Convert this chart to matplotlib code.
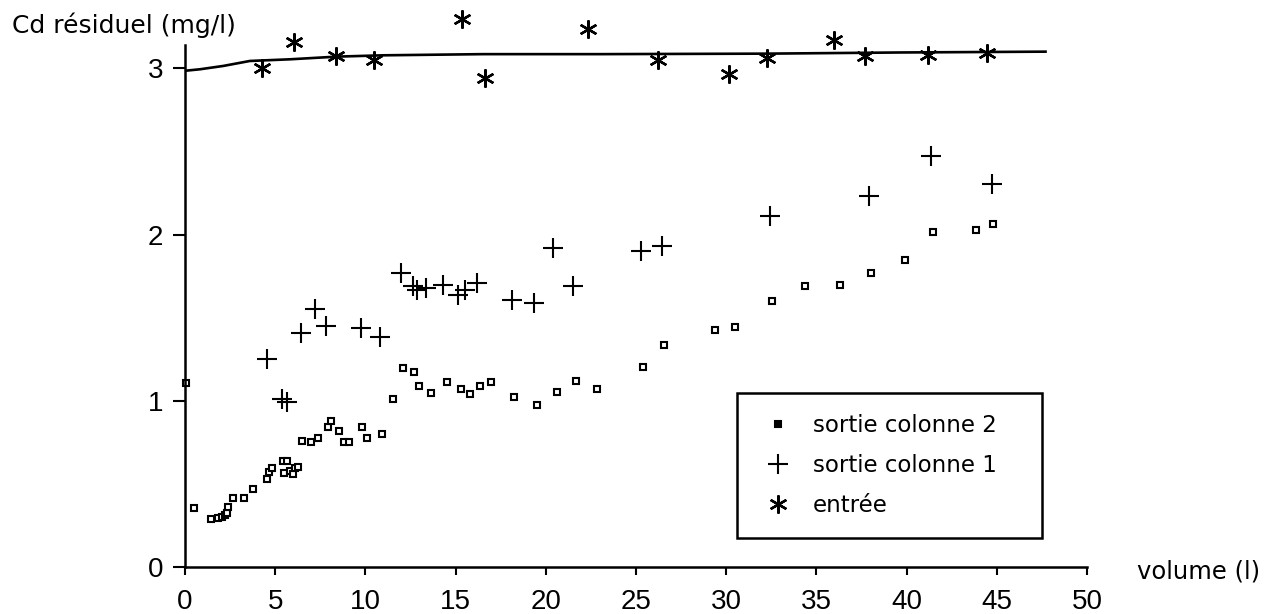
import numpy as np
import matplotlib
matplotlib.use("Agg")
import matplotlib.pyplot as plt

# -----------------------------------
# Data
# -----------------------------------
# sortie colonne 2 (small squares)
vol_c2 = [0.05, 0.5, 1.42, 1.85, 2.03, 2.22, 2.34, 2.4, 2.68, 3.27, 3.79, 4.53, 4.66, 4.81,
          5.42, 5.64, 5.49, 5.82, 6.0, 6.1, 6.28, 6.5, 6.97, 7.39, 7.91, 8.08, 8.55, 8.83,
          9.09, 9.83, 10.07, 10.9, 11.51, 12.1, 12.71, 12.99, 13.64, 14.51, 15.28, 15.8,
          16.35, 16.95, 18.25, 19.5, 20.6, 21.66, 22.86, 25.37, 26.53, 29.37, 30.47, 32.56,
          34.36, 36.31, 38.02, 39.9, 41.48, 43.85, 44.77]
cd_c2 = [1.107, 0.354, 0.287, 0.295, 0.303, 0.313, 0.327, 0.36, 0.414, 0.417, 0.47, 0.53,
         0.574, 0.595, 0.639, 0.639, 0.568, 0.578, 0.56, 0.595, 0.6, 0.755, 0.751, 0.775,
         0.845, 0.881, 0.821, 0.751, 0.751, 0.845, 0.775, 0.801, 1.01, 1.2, 1.17, 1.09,
         1.046, 1.113, 1.07, 1.04, 1.086, 1.11, 1.022, 0.976, 1.052, 1.116, 1.07, 1.203,
         1.333, 1.428, 1.442, 1.598, 1.689, 1.695, 1.769, 1.849, 2.014, 2.03, 2.062]

# sortie colonne 1 (plus signs)
vol_c1 = [4.53, 5.39, 5.67, 6.41, 7.21, 7.8, 9.74, 10.81, 11.96, 12.66, 12.84, 13.36, 14.32,
          15.15, 15.52, 16.17, 18.14, 19.35, 20.42, 21.49, 25.26, 26.44, 32.44, 37.92,
          41.34, 44.71]
cd_c1 = [1.251, 1.012, 0.992, 1.408, 1.552, 1.452, 1.438, 1.384, 1.769, 1.693, 1.664, 1.679,
         1.699, 1.639, 1.669, 1.709, 1.604, 1.589, 1.92, 1.689, 1.899, 1.929, 2.114, 2.231,
         2.472, 2.305]

# entrée (asterisks)
vol_in = [4.25, 6.04, 8.35, 10.48, 15.37, 16.63, 22.36, 26.24, 30.16, 32.25, 35.99, 37.69,
          41.17, 44.44]
cd_in = [3.004, 3.161, 3.074, 3.048, 3.295, 2.94, 3.235, 3.048, 2.964, 3.064, 3.17, 3.074,
         3.078, 3.089]

# smoothed inlet curve
vol_curve = [0, 0.83, 2.12, 3.6, 5.82, 8.41, 10.99, 16.54, 23.0, 32.24, 39.63, 47.7]
cd_curve = [2.985, 2.994, 3.014, 3.044, 3.054, 3.07, 3.078, 3.085, 3.085, 3.088, 3.095, 3.1]

x_ticks = [0, 5, 10, 15, 20, 25, 30, 35, 40, 45, 50]
y_ticks = [0, 1, 2, 3]

# -----------------------------------
# Plot
# -----------------------------------
plt.rcParams['font.family'] = ['DejaVu Sans']

W, H = 1273, 614
fig = plt.figure(figsize=(W / 100, H / 100), dpi=100)
ax = fig.add_axes([185 / W, 1 - 567 / H, (1087 - 185) / W, (567 - 45) / H])

ax.plot(vol_curve, cd_curve, color='black', lw=1.9, zorder=2)
ax.plot(vol_c2, cd_c2, linestyle='none', marker='s', ms=4.6, mfc='white', mec='black',
        mew=1.5, clip_on=False, label='sortie colonne 2')
ax.plot(vol_c1, cd_c1, linestyle='none', marker='+', ms=15, mec='black', mew=1.5,
        clip_on=False, label='sortie colonne 1')
ax.plot(vol_in, cd_in, linestyle='none', marker=(6, 2, 0), ms=13, mec='black', mew=1.7,
        clip_on=False, label='entrée')

ax.set_xlim(0, 50)
ax.set_ylim(0, 3.14)
ax.set_xticks(x_ticks)
ax.set_yticks(y_ticks)

for side in ['top', 'right']:
    ax.spines[side].set_visible(False)
for side in ['left', 'bottom']:
    ax.spines[side].set_linewidth(1.8)

ax.tick_params(axis='x', direction='out', length=6, width=1.5, pad=10)
ax.tick_params(axis='y', direction='out', length=8.5, width=1.5, pad=7)
for lbl in ax.get_xticklabels() + ax.get_yticklabels():
    lbl.set_fontfamily('Liberation Sans')
    lbl.set_fontsize(20)

leg = ax.legend(loc='upper left', bbox_to_anchor=(737 / W, 1 - 535 / H, 305 / W, 142 / H),
                bbox_transform=fig.transFigure, mode='expand', borderaxespad=0,
                fontsize=16.5, numpoints=1, handlelength=1.8, handletextpad=0.6,
                labelspacing=0.75, borderpad=0.9, fancybox=False, shadow=False,
                framealpha=1)
leg.get_frame().set_edgecolor('black')
leg.get_frame().set_linewidth(1.8)
leg.legend_handles[0].set_markerfacecolor('black')

fig.text(12 / W, 1 - 12 / H, 'Cd résiduel (mg/l)', fontsize=18, ha='left', va='top')
fig.text(1137 / W, 1 - 571 / H, 'volume (l)', fontsize=17.5, ha='left', va='center')

fig.savefig('out.png', dpi=100, facecolor='white')
